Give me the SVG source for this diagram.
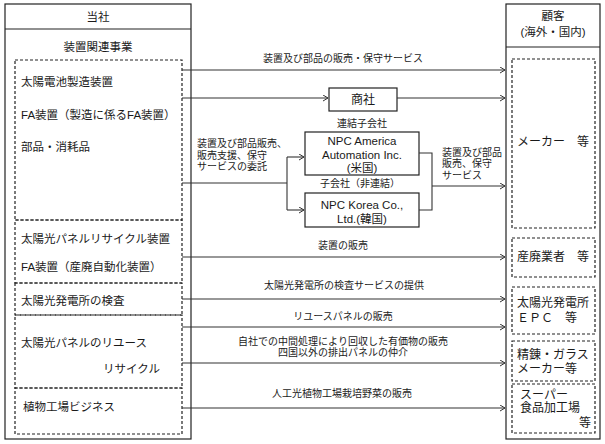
<svg xmlns="http://www.w3.org/2000/svg" width="605" height="444" viewBox="0 0 605 444">
<defs>
<style>
text{font-family:"Liberation Sans","Noto Sans CJK JP",sans-serif;fill:#1a1a1a;dominant-baseline:central}
.t{font-size:11.5px}
.c{font-size:12px}
.l{font-size:10px}
.m{text-anchor:middle}
.box{fill:#fff;stroke:#222;stroke-width:1.2}
.dash{fill:none;stroke:#222;stroke-width:1.2;stroke-dasharray:3,2}
.ln{fill:none;stroke:#333;stroke-width:1.1}
.arr{marker-end:url(#ah)}
</style>
<marker id="ah" markerUnits="userSpaceOnUse" markerWidth="8" markerHeight="8" refX="5" refY="3" orient="auto">
<path d="M0,0 L5,3 L0,6" fill="none" stroke="#333" stroke-width="1"/>
</marker>
</defs>
<rect width="605" height="444" fill="#fff"/>

<g id="company">
<rect class="box" x="5" y="4" width="186" height="435"/>
<line x1="5" y1="29" x2="191" y2="29" stroke="#222" stroke-width="1.2"/>
<text class="t m" x="98" y="17">当社</text>
<text class="t m" x="98" y="47">装置関連事業</text>
</g>
<g id="seg-equipment">
<rect class="dash" x="15" y="60" width="167" height="160"/>
<text class="t" x="21" y="82">太陽電池製造装置</text>
<text class="t" x="21" y="115">FA装置（製造に係るFA装置）</text>
<text class="t" x="21" y="147">部品・消耗品</text>
</g>
<g id="seg-recycle-equipment">
<rect class="dash" x="15" y="220" width="167" height="63"/>
<text class="t" x="21" y="239">太陽光パネルリサイクル装置</text>
<text class="t" x="21" y="267">FA装置（産廃自動化装置）</text>
</g>
<g id="seg-inspection">
<rect class="dash" x="15" y="283" width="167" height="32"/>
<text class="t" x="21" y="301">太陽光発電所の検査</text>
</g>
<g id="seg-reuse">
<rect class="dash" x="15" y="315" width="167" height="73"/>
<text class="t" x="21" y="343">太陽光パネルのリユース</text>
<text class="t" x="103" y="369">リサイクル</text>
</g>
<g id="seg-plant">
<rect class="dash" x="15" y="388" width="167" height="46"/>
<text class="t" x="23" y="407">植物工場ビジネス</text>
</g>

<g id="trading">
<rect class="box" x="329" y="88" width="68" height="23"/>
<text class="c m" x="363" y="99.5">商社</text>
</g>
<g id="npc-america">
<text class="l m" x="362" y="123">連結子会社</text>
<rect class="box" x="305" y="132" width="114" height="43"/>
<text class="t m" x="362" y="141">NPC America</text>
<text class="t m" x="362" y="155">Automation Inc.</text>
<text class="t m" x="362" y="168">(米国)</text>
</g>
<g id="npc-korea">
<text class="l m" x="360" y="183">子会社（非連結）</text>
<rect class="box" x="305" y="193" width="114" height="34"/>
<text class="t m" x="362" y="205">NPC Korea Co.,</text>
<text class="t m" x="362" y="219">Ltd.(韓国)</text>
</g>

<g id="customer">
<rect class="box" x="506" y="4" width="94" height="435"/>
<line x1="506" y1="47" x2="600" y2="47" stroke="#222" stroke-width="1.2"/>
<text class="t m" x="553" y="16">顧客</text>
<text class="t m" x="553" y="32">(海外・国内)</text>
</g>
<g id="cust-maker">
<rect class="dash" x="512" y="59" width="83" height="169"/>
<text class="c" x="517" y="142">メーカー　等</text>
</g>
<g id="cust-waste">
<rect class="dash" x="512" y="238" width="83" height="39"/>
<text class="c" x="517" y="257">産廃業者　等</text>
</g>
<g id="cust-epc">
<rect class="dash" x="512" y="287" width="83" height="47"/>
<text class="c" x="517" y="303">太陽光発電所</text>
<text class="c" x="517" y="318">ＥＰＣ　等</text>
</g>
<g id="cust-glass">
<rect class="dash" x="512" y="341" width="83" height="40"/>
<text class="c" x="517" y="355">精錬・ガラス</text>
<text class="c" x="517" y="369">メーカー等</text>
</g>
<g id="cust-super">
<rect class="dash" x="512" y="384" width="83" height="49"/>
<text class="c" x="520" y="395">スーパー</text>
<text class="c" x="520" y="408">食品加工場</text>
<text class="c" x="591" y="423" text-anchor="end">等</text>
</g>

<g id="connectors">
<line class="ln arr" x1="182" y1="70" x2="505" y2="70"/>
<text class="l m" x="343" y="58">装置及び部品の販売・保守サービス</text>
<line class="ln arr" x1="182" y1="98" x2="328" y2="98"/>
<line class="ln arr" x1="397" y1="98" x2="505" y2="98"/>
<polyline class="ln" points="182,183 287,183"/>
<line class="ln" x1="287" y1="157" x2="287" y2="210"/>
<line class="ln arr" x1="287" y1="157" x2="304" y2="157"/>
<line class="ln arr" x1="287" y1="210" x2="304" y2="210"/>
<text class="l" x="197" y="143">装置及び部品販売、</text>
<text class="l" x="197" y="155">販売支援、保守</text>
<text class="l" x="197" y="166">サービスの委託</text>
<polyline class="ln" points="419,153 432,153 432,210 419,210"/>
<line class="ln arr" x1="432" y1="186" x2="505" y2="186"/>
<text class="l" x="442" y="152">装置及び部品</text>
<text class="l" x="442" y="163">販売、保守</text>
<text class="l" x="442" y="175">サービス</text>
<line class="ln arr" x1="182" y1="257" x2="505" y2="257"/>
<text class="l m" x="343" y="245">装置の販売</text>
<line class="ln arr" x1="182" y1="299" x2="505" y2="299"/>
<text class="l m" x="344" y="285">太陽光発電所の検査サービスの提供</text>
<line class="ln arr" x1="182" y1="327" x2="505" y2="327"/>
<text class="l m" x="343" y="316">リユースパネルの販売</text>
<line class="ln arr" x1="182" y1="363" x2="505" y2="363"/>
<text class="l m" x="343" y="341">自社での中間処理により回収した有価物の販売</text>
<text class="l m" x="343" y="352">四国以外の排出パネルの仲介</text>
<line class="ln arr" x1="182" y1="408" x2="505" y2="408"/>
<text class="l m" x="342" y="393">人工光植物工場栽培野菜の販売</text>
</g>
</svg>
